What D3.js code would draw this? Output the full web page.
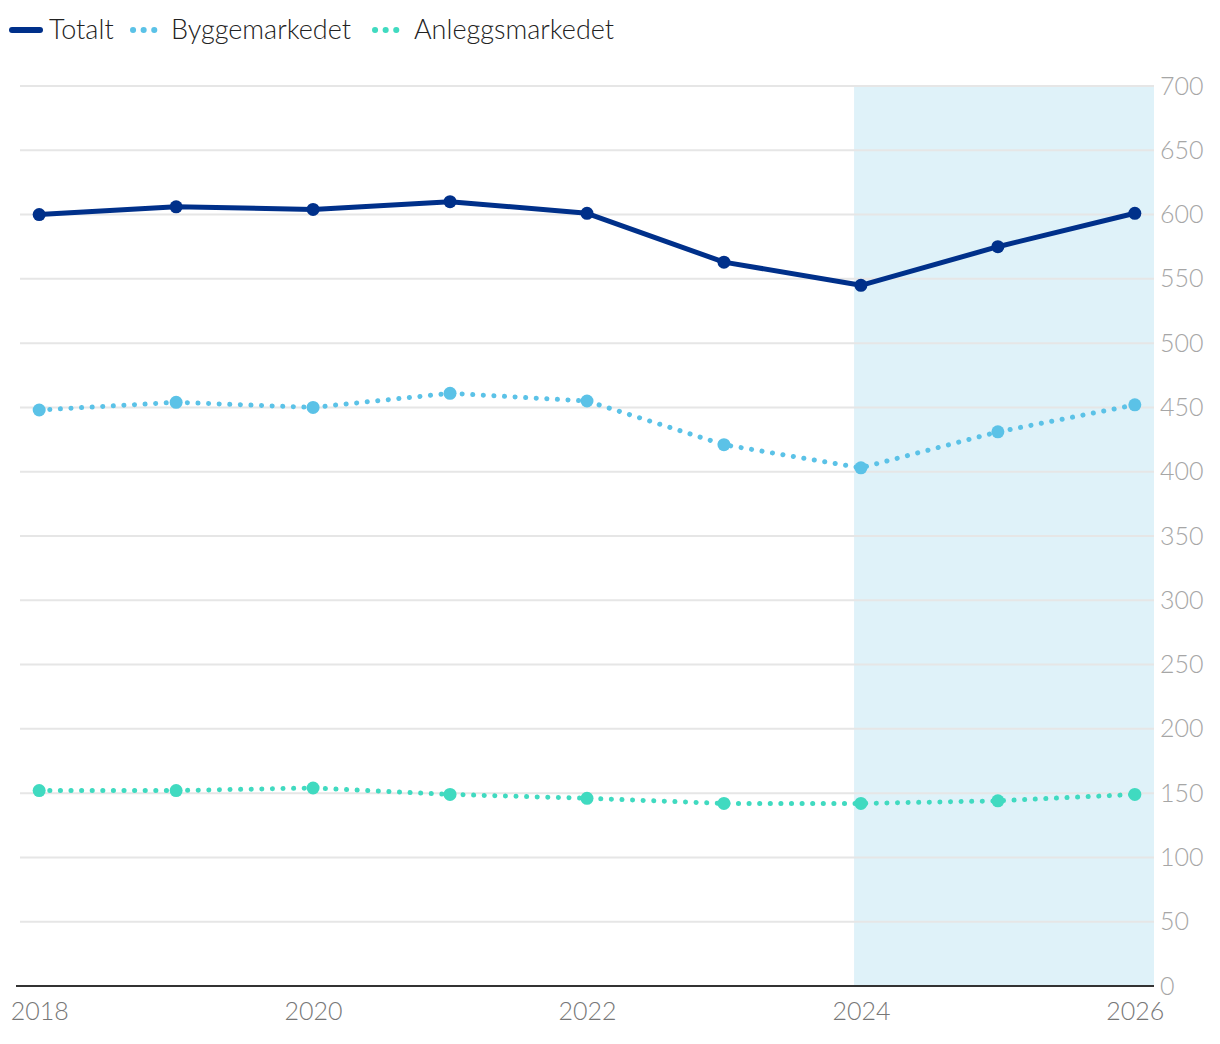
<!DOCTYPE html>
<html>
<head>
<meta charset="utf-8">
<script src="https://cdn.jsdelivr.net/npm/d3@7"></script>
<style>
  html, body { margin: 0; padding: 0; background: #fff; }
  svg { display: block; font-family: Lato, "Noto Sans", sans-serif; }
</style>
</head>
<body>
<svg id="chart" width="1220" height="1044"></svg>
<script>
const years = [2018, 2019, 2020, 2021, 2022, 2023, 2024, 2025, 2026];
const totalt = [600, 606, 604, 610, 601, 563, 545, 575, 601];
const byggemarkedet = [448, 454, 450, 461, 455, 421, 403, 431, 452];
const anleggsmarkedet = [152, 152, 154, 149, 146, 142, 142, 144, 149];
const xTickLabels = [2018, 2020, 2022, 2024, 2026];
const yTickLabels = [0, 50, 100, 150, 200, 250, 300, 350, 400, 450, 500, 550, 600, 650, 700];
const forecastStart = 2023.95;
const xDomain = [2017.86, 2026.14];

const series = [
  { name: "Totalt", values: totalt, color: "#00308a", dotted: false },
  { name: "Byggemarkedet", values: byggemarkedet, color: "#5bc2e7", dotted: true },
  { name: "Anleggsmarkedet", values: anleggsmarkedet, color: "#40dac0", dotted: true }
];

(function () {
const svg = d3.select("#chart");
const pLeft = 20, pRight = 1154, pTop = 86, pBottom = 986;
const font = "Lato, 'Noto Sans', sans-serif";

const x = d3.scaleLinear().domain(xDomain).range([pLeft, pRight]);
const y = d3.scaleLinear().domain([0, 700]).range([pBottom, pTop]);

// forecast band
svg.append("rect")
  .attr("x", x(forecastStart)).attr("y", y(700))
  .attr("width", x(xDomain[1]) - x(forecastStart))
  .attr("height", y(0) - y(700))
  .attr("fill", "#dff2f9");

// gridlines
svg.append("g").selectAll("line").data(yTickLabels.filter(d => d > 0)).join("line")
  .attr("x1", pLeft).attr("x2", pRight)
  .attr("y1", d => y(d)).attr("y2", d => y(d))
  .attr("stroke", "#e6e6e6").attr("stroke-width", 2);

// y axis labels on right
const yAxis = d3.axisRight(y).tickValues(yTickLabels).tickSize(0).tickPadding(6);
const gy = svg.append("g").attr("transform", `translate(${pRight},0)`).call(yAxis);
gy.select(".domain").remove();
gy.selectAll("text").attr("fill", "#a6a6a6").style("font-size", "25px")
  .style("font-weight", 300).style("font-family", font);

// x axis
const xAxis = d3.axisBottom(x).tickValues(xTickLabels).tickFormat(d3.format("d")).tickSize(0).tickPadding(16);
const gx = svg.append("g").attr("transform", `translate(0,${pBottom})`).call(xAxis);
gx.select(".domain").remove();
gx.selectAll("text").attr("fill", "#777").style("font-size", "25px")
  .style("font-weight", 300).style("font-family", font);
svg.append("line")
  .attr("x1", pLeft - 4).attr("x2", pRight).attr("y1", y(0)).attr("y2", y(0))
  .attr("stroke", "#333").attr("stroke-width", 2);

// lines
const line = d3.line().x((d, i) => x(years[i])).y(d => y(d));
series.slice().reverse().forEach(s => {
  const g = svg.append("g");
  g.append("path").datum(s.values)
    .attr("d", line)
    .attr("fill", "none")
    .attr("stroke", s.color)
    .attr("stroke-width", 5)
    .attr("stroke-linecap", "round")
    .attr("stroke-linejoin", "round")
    .attr("stroke-dasharray", s.dotted ? "0.1 10.5" : null);
  g.selectAll("circle").data(s.values).join("circle")
    .attr("cx", (d, i) => x(years[i])).attr("cy", d => y(d))
    .attr("r", 6.5).attr("fill", s.color);
});

// legend
const legend = svg.append("g");
const legendItems = [
  { s: series[0], x0: 12, tx: 49 },
  { s: series[1], x0: 133, tx: 171 },
  { s: series[2], x0: 375, tx: 414 }
];
legendItems.forEach(({ s, x0, tx }) => {
  if (!s.dotted) {
    legend.append("line").attr("x1", x0).attr("x2", x0 + 28).attr("y1", 30).attr("y2", 30)
      .attr("stroke", s.color).attr("stroke-width", 6).attr("stroke-linecap", "round");
  } else {
    legend.append("line").attr("x1", x0).attr("x2", x0 + 22).attr("y1", 30).attr("y2", 30)
      .attr("stroke", s.color).attr("stroke-width", 6).attr("stroke-linecap", "round")
      .attr("stroke-dasharray", "0.1 10.5");
  }
  legend.append("text").attr("x", tx).attr("y", 30).attr("dy", "0.35em")
    .attr("fill", "#222").style("font-size", "27px").style("font-weight", 300)
    .style("font-family", font).text(s.name);
});
})();
</script>
</body>
</html>
